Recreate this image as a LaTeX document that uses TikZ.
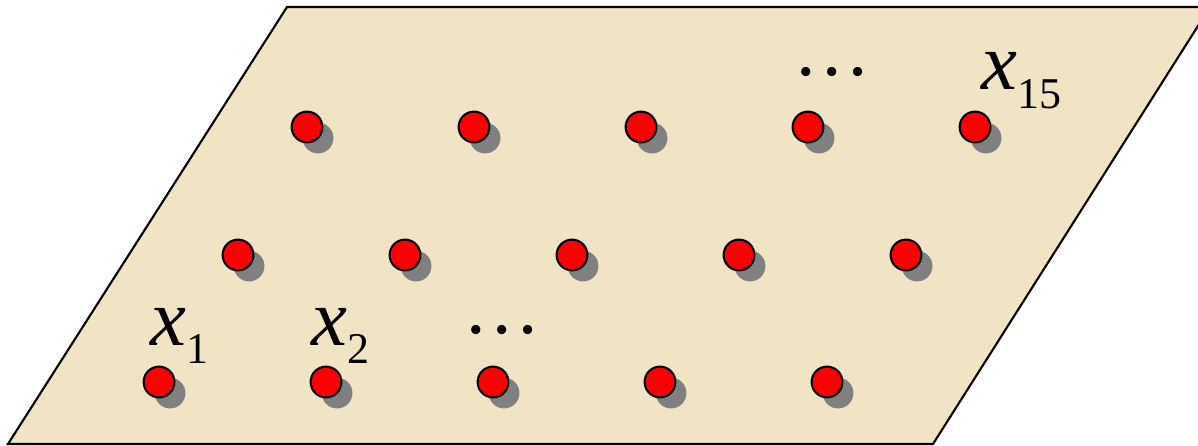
\documentclass[tikz,border=0pt]{standalone}
\usepackage{fontspec}
\setmainfont{Liberation Serif}
\usetikzlibrary{shadows}
\definecolor{sandfill}{RGB}{241,228,197}
\definecolor{dotred}{RGB}{255,0,0}
\definecolor{shadowgray}{RGB}{128,128,128}
\tikzset{
  dotnode/.style={circle, draw=black, line width=1.2pt, fill=dotred, minimum size=17.5pt, inner sep=0pt,
    drop shadow={shadow xshift=6.3pt, shadow yshift=-6.3pt, fill=shadowgray, opacity=1}},
  lbl/.style={inner sep=0pt, anchor=base west, font=\fontsize{46}{50}\selectfont},
  dotsnode/.style={inner sep=0pt, anchor=base, font=\fontsize{44}{48}\selectfont},
}
\newcommand{\xsub}[1]{\textit{x}\raisebox{-10.5pt}{\fontsize{25}{28}\selectfont #1}}
\begin{document}
\begin{tikzpicture}[x=0.02cm, y=-0.02cm]
\useasboundingbox (0,0) rectangle (1198,446);
\clip (0,0) rectangle (1198,446);
\draw[line width=1.2pt, fill=sandfill] (8,444) -- (933,444) -- (1210,7) -- (287,7) -- cycle;
% three rows of points
\foreach \k in {0,...,4} {
  \node[dotnode] (a\k) at (159+167*\k,382) {};
  \node[dotnode] (b\k) at (238+167*\k,255) {};
  \node[dotnode] (c\k) at (307+167*\k,127) {};
}
\node[lbl] (x1) at (150,345) {\xsub{1}};
\node[lbl] (x2) at (311,345) {\xsub{2}};
\node[lbl] (x15) at (981,90) {\xsub{15}};
\node[dotsnode] (low) at (502,334) {…};
\node[dotsnode] (up) at (832,76) {…};
\end{tikzpicture}
\end{document}
